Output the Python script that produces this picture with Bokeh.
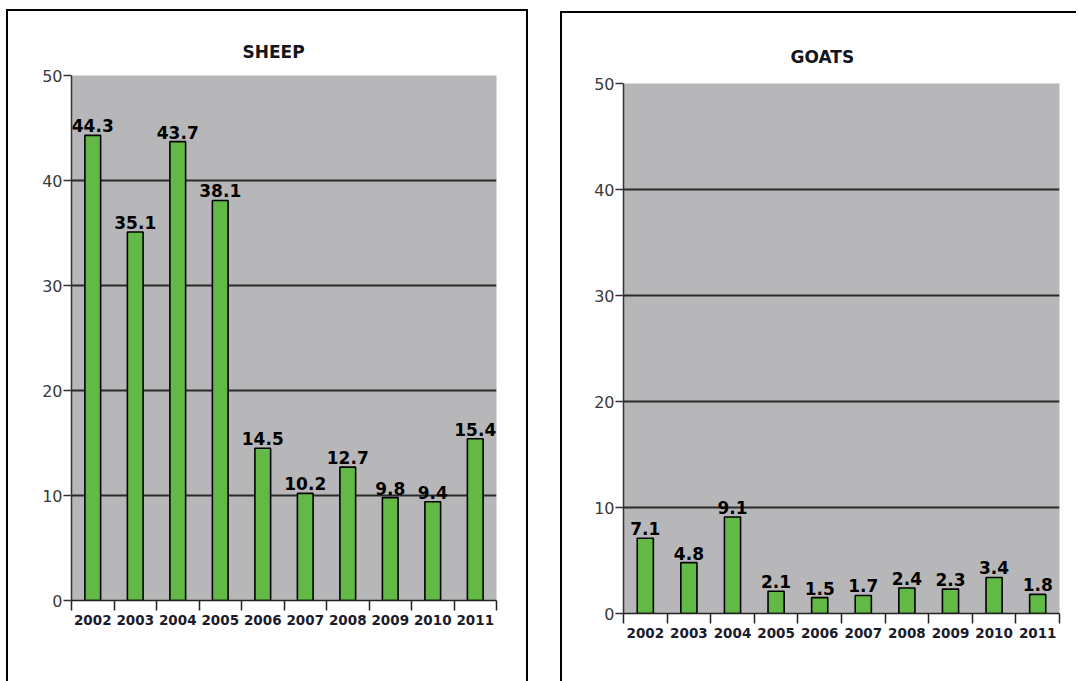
from bokeh.plotting import figure
from bokeh.layouts import row, column
from bokeh.models import ColumnDataSource, FixedTicker, Range1d
from bokeh.core.properties import value
from bokeh.embed import file_html
from bokeh.resources import INLINE

# Livestock values per year
years = ["2002", "2003", "2004", "2005", "2006", "2007", "2008", "2009", "2010", "2011"]
sheep = [44.3, 35.1, 43.7, 38.1, 14.5, 10.2, 12.7, 9.8, 9.4, 15.4]
goats = [7.1, 4.8, 9.1, 2.1, 1.5, 1.7, 2.4, 2.3, 3.4, 1.8]
y_ticks = [0, 10, 20, 30, 40, 50]

FONT = "DejaVu Sans"
BAR_GREEN = "#62b946"
FRAME_GRAY = "#b7b7b9"


def make_panel(title, values, width, height, min_borders, title_offset, title_standoff):
    n = len(years)
    centers = list(range(n))
    src = ColumnDataSource(dict(
        x=centers,
        top=values,
        label=[f"{v:.1f}" for v in values],
    ))

    p = figure(
        width=width, height=height,
        x_range=Range1d(-0.5, n - 0.5), y_range=Range1d(0, 50),
        output_backend="svg", toolbar_location=None, tools="",
    )
    top, right, bottom, left = min_borders
    p.min_border_top = top
    p.min_border_right = right
    p.min_border_bottom = bottom
    p.min_border_left = left

    p.background_fill_color = FRAME_GRAY
    p.border_fill_color = "white"
    p.outline_line_color = None

    # title
    p.title.text = title
    p.title.text_font = FONT
    p.title.text_font_size = "17px"
    p.title.text_font_style = "bold"
    p.title.text_color = "#151520"
    p.title.align = "left"
    p.title.offset = title_offset
    p.title.standoff = title_standoff

    # bars and value labels
    p.vbar(x="x", top="top", bottom=0, width=0.37, source=src,
           fill_color=BAR_GREEN, line_color="black", line_width=1.6)
    p.text(x="x", y="top", text="label", source=src,
           text_font=value(FONT), text_font_size="17px", text_font_style="bold",
           text_color="black", text_align="center", text_baseline="bottom",
           y_offset=-3)

    # y axis
    yax = p.yaxis[0]
    yax.ticker = FixedTicker(ticks=y_ticks, minor_ticks=[])
    yax.major_tick_out = 8
    yax.major_tick_in = 0
    yax.major_tick_line_color = "#333333"
    yax.major_tick_line_width = 1.5
    yax.minor_tick_line_color = None
    yax.axis_line_color = "#333333"
    yax.axis_line_width = 1.5
    yax.major_label_text_font = FONT
    yax.major_label_text_font_size = "16px"
    yax.major_label_text_color = "#3a3a3a"
    yax.major_label_standoff = 1

    # x axis: labels at bar centres, ticks on category boundaries
    xax = p.xaxis[0]
    xax.ticker = FixedTicker(ticks=centers,
                             minor_ticks=[i - 0.5 for i in range(n + 1)])
    xax.major_label_overrides = {c: y for c, y in zip(centers, years)}
    xax.major_tick_out = 0
    xax.major_tick_in = 0
    xax.major_tick_line_color = None
    xax.minor_tick_out = 10
    xax.minor_tick_in = 0
    xax.minor_tick_line_color = "#222222"
    xax.minor_tick_line_width = 1.5
    xax.axis_line_color = "#222222"
    xax.axis_line_width = 1.5
    xax.major_label_text_font = FONT
    xax.major_label_text_font_size = "13.5px"
    xax.major_label_text_font_style = "bold"
    xax.major_label_text_color = "#1b1b2b"
    xax.major_label_standoff = 4

    p.xgrid.visible = False
    p.ygrid.grid_line_color = "#2a2a2a"
    p.ygrid.grid_line_width = 1.8
    return p


p1 = make_panel("SHEEP", sheep, width=518, height=657,
                min_borders=(64, 30, 68, 63), title_offset=171, title_standoff=28)
p2 = make_panel("GOATS", goats, width=514, height=662,
                min_borders=(64, 17, 68, 61), title_offset=167, title_standoff=33)

panel1 = column(p1, margin=(9, 0, 0, 6),
                styles={"border-top": "2px solid black",
                        "border-left": "2px solid black",
                        "border-right": "2px solid black",
                        "padding-bottom": "13px"})
panel2 = column(p2, margin=(11, 0, 0, 32),
                styles={"border-top": "2px solid black",
                        "border-left": "2px solid black",
                        "padding-top": "6px"})

layout = row(panel1, panel2)
open("out.html", "w").write(file_html(layout, INLINE))
